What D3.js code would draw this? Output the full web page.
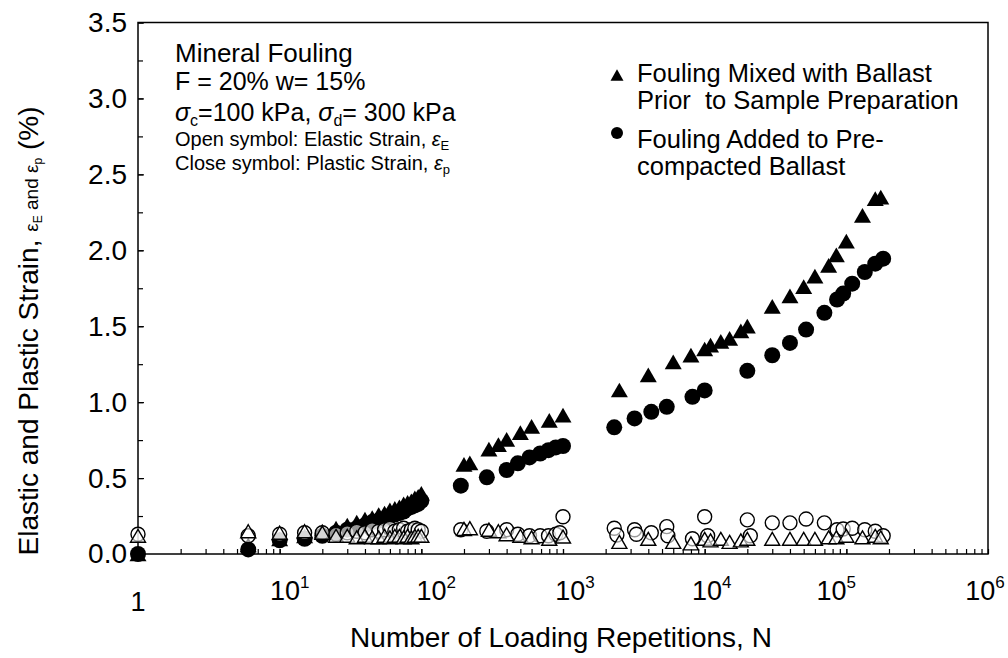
<!DOCTYPE html>
<html><head><meta charset="utf-8">
<script src="https://cdn.jsdelivr.net/npm/d3@7"></script>
<style>body{margin:0;background:#fff} svg text{font-family:"Liberation Sans",Arial,sans-serif;fill:#000}</style>
</head><body><svg id="c" width="1008" height="658"></svg>
<script>
// ---------- data ----------
// closed triangles: plastic strain, fouling mixed with ballast
const pmN = [1, 6, 10, 15, 20, 25, 30, 35, 40, 45, 50, 55, 60, 65, 70, 75, 80, 85, 90, 95, 100,
  200, 220, 300, 350, 400, 500, 600, 800, 1000,
  2500, 4000, 6000, 8000, 10000, 11000, 13000, 15000, 18000, 20000,
  30000, 40000, 50000, 60000, 75000, 85000, 100000, 130000, 160000, 175000];
const pmV = [0.00, 0.06, 0.10, 0.12, 0.15, 0.17, 0.19, 0.21, 0.23, 0.24, 0.26, 0.27, 0.29, 0.30, 0.31, 0.33, 0.34, 0.35, 0.37, 0.38, 0.40,
  0.59, 0.60, 0.69, 0.72, 0.755, 0.80, 0.84, 0.88, 0.915,
  1.08, 1.18, 1.265, 1.31, 1.35, 1.375, 1.40, 1.42, 1.47, 1.50,
  1.63, 1.70, 1.76, 1.83, 1.90, 1.97, 2.06, 2.23, 2.34, 2.35];
// closed circles: plastic strain, fouling added to pre-compacted ballast
const paN = [1, 6, 10, 15, 20, 25, 30, 35, 40, 45, 50, 55, 60, 65, 70, 75, 80, 85, 90, 95, 100,
  190, 290, 400, 480, 580, 690, 790, 890, 1000,
  2300, 3200, 4200, 5400, 8200,
  10000, 20000, 30000, 40000, 52000, 70000, 86000, 95000, 110000, 135000, 160000, 182000];
const paV = [0.00, 0.03, 0.09, 0.10, 0.12, 0.14, 0.16, 0.17, 0.19, 0.21, 0.22, 0.23, 0.25, 0.26, 0.27, 0.28, 0.30, 0.31, 0.32, 0.33, 0.35,
  0.45, 0.505, 0.553, 0.597, 0.636, 0.662, 0.684, 0.702, 0.711,
  0.834, 0.893, 0.936, 0.969, 1.035,
  1.077, 1.206, 1.309, 1.39, 1.478, 1.588, 1.676, 1.715, 1.78, 1.857, 1.912, 1.945];
// open triangles: elastic strain, fouling mixed with ballast
const emN = pmN;
const emV = [0.12, 0.15, 0.14, 0.15, 0.14, 0.12, 0.12, 0.11, 0.12, 0.11, 0.11, 0.12, 0.11, 0.12, 0.12, 0.11, 0.12, 0.11, 0.12, 0.12, 0.12,
  0.165, 0.17, 0.16, 0.15, 0.13, 0.12, 0.11, 0.10, 0.115,
  0.08, 0.10, 0.08, 0.07, 0.10, 0.09, 0.10, 0.08, 0.09, 0.10,
  0.10, 0.10, 0.10, 0.10, 0.11, 0.11, 0.12, 0.11, 0.12, 0.11];
// open circles: elastic strain, fouling added to pre-compacted ballast
const eaN = [1, 6, 10, 15, 20, 25, 30, 35, 40, 45, 50, 55, 60, 65, 70, 75, 80, 85, 90, 95, 100,
  190, 290, 400, 480, 580, 690, 790, 890, 950, 1000,
  2300, 2400, 3200, 3300, 4200, 5400, 5500, 8200,
  10000, 10500, 20000, 21000, 30000, 40000, 52000, 70000, 86000, 95000, 110000, 135000, 160000, 182000];
const eaV = [0.13, 0.12, 0.13, 0.14, 0.14, 0.13, 0.14, 0.15, 0.14, 0.16, 0.15, 0.16, 0.17, 0.15, 0.16, 0.17, 0.15, 0.16, 0.17, 0.16, 0.15,
  0.16, 0.15, 0.16, 0.13, 0.12, 0.12, 0.12, 0.13, 0.14, 0.245,
  0.17, 0.125, 0.16, 0.13, 0.14, 0.18, 0.12, 0.10,
  0.245, 0.12, 0.225, 0.12, 0.205, 0.205, 0.23, 0.205, 0.16, 0.165, 0.17, 0.16, 0.15, 0.12];

const yMajor = [0, 0.5, 1.0, 1.5, 2.0, 2.5, 3.0, 3.5];
const yLabels = ["0.0", "0.5", "1.0", "1.5", "2.0", "2.5", "3.0", "3.5"];
const xExp = [0, 1, 2, 3, 4, 5, 6];
const legendLabels = [["Fouling Mixed with Ballast", "Prior\u00a0 to Sample Preparation"], ["Fouling Added to Pre-", "compacted Ballast"]];

// ---------- layout ----------
const L = 138, R = 988, T = 22.5, B = 554;
const xLabelDx = [0, 10, 15, 12, 7, -10, -3];
const svg = d3.select("#c");
const x = d3.scaleLog().domain([1, 1e6]).range([L, R]);
const y = d3.scaleLinear().domain([0, 3.5]).range([B, T]);

function tri(a) {
  const h = a * Math.sqrt(3) / 2;
  return `M0,${-h / 2}L${a / 2},${h / 2}L${-a / 2},${h / 2}Z`;
}

// frame
svg.append("rect").attr("x", L).attr("y", T).attr("width", R - L).attr("height", B - T)
  .attr("fill", "none").attr("stroke", "#000").attr("stroke-width", 1.5);

// y axis
const yMinor = d3.range(0, 3.5001, 0.25);
svg.append("g").attr("transform", `translate(${L},0)`)
  .call(d3.axisLeft(y).tickValues(yMinor).tickSize(-5).tickFormat(""))
  .call(g => { g.select(".domain").remove(); g.selectAll("line").attr("stroke-width", 1.2); });
svg.append("g").attr("transform", `translate(${L},0)`)
  .call(d3.axisLeft(y).tickValues(yMajor).tickSize(-6).tickPadding(11).tickFormat((d, i) => yLabels[i]))
  .call(g => { g.select(".domain").remove(); g.selectAll("line").attr("stroke-width", 1.2);
    g.selectAll("text").attr("font-size", 28).attr("font-family", "Liberation Sans, Arial, sans-serif"); });

// x axis
const xMinor = [];
for (let e = 0; e < 6; e++) for (let k = 1; k <= 10; k++) xMinor.push(k * Math.pow(10, e));
svg.append("g").attr("transform", `translate(0,${B})`)
  .call(d3.axisBottom(x).tickValues(xMinor).tickSize(-5).tickFormat(""))
  .call(g => { g.select(".domain").remove(); g.selectAll("line").attr("stroke-width", 1.2); });

const xl = svg.append("g");
xExp.forEach((e, i) => {
  const cx = x(Math.pow(10, e)) + xLabelDx[i];
  if (e === 0) {
    xl.append("text").attr("x", cx).attr("y", 611).attr("text-anchor", "middle").attr("font-size", 27).text("1");
  } else {
    const t = xl.append("text").attr("x", cx).attr("y", 600).attr("text-anchor", "middle").attr("font-size", 27);
    t.append("tspan").text("10");
    t.append("tspan").attr("font-size", 17).attr("dy", -12).text(String(e));
  }
});

// axis titles
svg.append("text").attr("x", 561).attr("y", 647).attr("text-anchor", "middle").attr("font-size", 28)
  .text("Number of Loading Repetitions, N");
const yt = svg.append("text").attr("transform", "translate(38,331) rotate(-90)").attr("text-anchor", "middle").attr("font-size", 28);
yt.append("tspan").text("Elastic and Plastic Strain, ");
yt.append("tspan").attr("font-size", 19).text("ε");
yt.append("tspan").attr("font-size", 12).attr("dy", 4).text("E");
yt.append("tspan").attr("font-size", 19).attr("dy", -4).text(" and ε");
yt.append("tspan").attr("font-size", 12).attr("dy", 4).text("p");
yt.append("tspan").attr("dy", -4).text(" (%)");

// markers
const plot = svg.append("g");
plot.selectAll(".pa").data(paN.map((n, i) => [n, paV[i]])).join("circle")
  .attr("cx", d => x(d[0])).attr("cy", d => y(d[1])).attr("r", 8).attr("fill", "#000");
plot.selectAll(".pm").data(pmN.map((n, i) => [n, pmV[i]])).join("path")
  .attr("d", tri(17)).attr("transform", d => `translate(${x(d[0])},${y(d[1])})`).attr("fill", "#000");
plot.selectAll(".ea").data(eaN.map((n, i) => [n, eaV[i]])).join("circle")
  .attr("cx", d => x(d[0])).attr("cy", d => y(d[1])).attr("r", 7).attr("fill", "#fff").attr("fill-opacity", 0.6)
  .attr("stroke", "#000").attr("stroke-width", 1.4);
plot.selectAll(".em").data(emN.map((n, i) => [n, emV[i]])).join("path")
  .attr("d", tri(15)).attr("transform", d => `translate(${x(d[0])},${y(d[1])})`).attr("fill", "#fff").attr("fill-opacity", 0.6)
  .attr("stroke", "#000").attr("stroke-width", 1.4);

// annotation
const ann = svg.append("g");
ann.append("text").attr("x", 175).attr("y", 62).attr("font-size", 26).text("Mineral Fouling");
ann.append("text").attr("x", 175).attr("y", 90).attr("font-size", 25).text("F = 20% w= 15%");
const s = ann.append("text").attr("x", 175).attr("y", 121).attr("font-size", 25);
s.append("tspan").attr("font-style", "italic").text("σ");
s.append("tspan").attr("font-size", 16).attr("dy", 5).text("c");
s.append("tspan").attr("dy", -5).text("=100 kPa, ");
s.append("tspan").attr("font-style", "italic").text("σ");
s.append("tspan").attr("font-size", 16).attr("dy", 5).text("d");
s.append("tspan").attr("dy", -5).text("= 300 kPa");
const o1 = ann.append("text").attr("x", 175).attr("y", 146).attr("font-size", 20);
o1.append("tspan").text("Open symbol: Elastic Strain, ");
o1.append("tspan").attr("font-style", "italic").text("ε");
o1.append("tspan").attr("font-size", 13).attr("dy", 4).text("E");
const o2 = ann.append("text").attr("x", 175).attr("y", 170).attr("font-size", 20);
o2.append("tspan").text("Close symbol: Plastic Strain, ");
o2.append("tspan").attr("font-style", "italic").text("ε");
o2.append("tspan").attr("font-size", 13).attr("dy", 4).text("p");

// legend (each entry is one text block with two lines)
const lg = svg.append("g");
lg.append("path").attr("d", tri(13)).attr("transform", "translate(617,75)").attr("fill", "#000");
lg.append("circle").attr("cx", 617).attr("cy", 133).attr("r", 6).attr("fill", "#000");
[82, 148].forEach((y0, i) => {
  const t = lg.append("text").attr("x", 637).attr("y", y0).attr("font-size", 25.5);
  t.append("tspan").attr("x", 637).text(legendLabels[i][0]);
  t.append("tspan").attr("x", 637).attr("dy", 27).text(legendLabels[i][1]);
});
</script></body></html>
